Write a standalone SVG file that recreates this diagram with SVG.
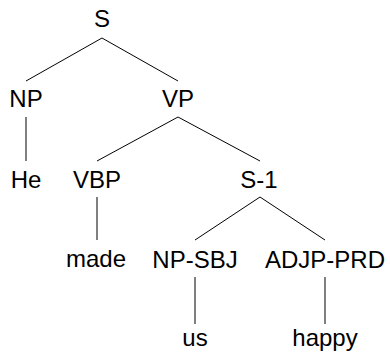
<svg xmlns="http://www.w3.org/2000/svg" width="390" height="352" viewBox="0 0 390 352">
<style>
text{font-family:"Liberation Sans",Arial,sans-serif;font-size:24px;fill:#000;text-anchor:middle}
.e line{stroke:#000;stroke-width:1}
</style>
<rect width="390" height="352" fill="#fff"/>
<g id="connectors" class="e">
<line x1="102" y1="38" x2="26" y2="81"/>
<line x1="102" y1="38" x2="178" y2="81"/>
<line x1="26" y1="117" x2="26" y2="161"/>
<line x1="178" y1="117" x2="97" y2="161"/>
<line x1="178" y1="117" x2="260" y2="161"/>
<line x1="97" y1="197" x2="97" y2="240"/>
<line x1="260" y1="197" x2="195" y2="240"/>
<line x1="260" y1="197" x2="325" y2="240"/>
<line x1="195" y1="277" x2="195" y2="324"/>
<line x1="325" y1="277" x2="325" y2="324"/>
</g>
<g id="n-S"><text x="102" y="27">S</text></g>
<g id="n-NP"><text x="26" y="107">NP</text></g>
<g id="n-VP"><text x="178" y="107">VP</text></g>
<g id="n-He"><text x="26" y="188">He</text></g>
<g id="n-VBP"><text x="97" y="188">VBP</text></g>
<g id="n-S1"><text x="259" y="188">S-1</text></g>
<g id="n-made"><text x="96" y="267">made</text></g>
<g id="n-NPSBJ"><text x="195" y="268">NP-SBJ</text></g>
<g id="n-ADJPPRD"><text x="325" y="268">ADJP-PRD</text></g>
<g id="n-us"><text x="195" y="346">us</text></g>
<g id="n-happy"><text x="325" y="346">happy</text></g>
</svg>
